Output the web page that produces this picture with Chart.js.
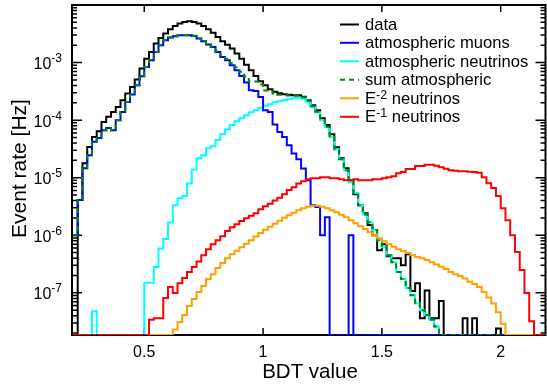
<!DOCTYPE html>
<html>
<head>
<meta charset="utf-8">
<script src="https://cdn.jsdelivr.net/npm/chart.js@4.4.1/dist/chart.umd.min.js"></script>
<style>
  html, body { margin: 0; padding: 0; background: #ffffff; }
  #c { display: block; }
</style>
</head>
<body>
<canvas id="c" width="547" height="385" style="width:547px;height:385px"></canvas>
<script>
// Binning of the BDT score histograms
const BIN_LOW = 0.2;
const BIN_WIDTH = 0.02;

// Axis ranges
const X_MIN = 0.196, X_MAX = 2.1885;
const Y_MIN = 1.85e-8, Y_MAX = 1e-2;

// Tick labels
const xTicks = [0.5, 1, 1.5, 2];
const xTickLabels = ['0.5', '1', '1.5', '2'];
const yTickDecades = [-7, -6, -5, -4, -3];
const yTickExponents = ['-7', '-6', '-5', '-4', '-3'];

// Event rates per bin [Hz], 100 bins from 0.20 to 2.20
const data = [
  0, 4.1e-6, 1.79e-5, 3.43e-5, 5.1e-5, 6.4e-5, 9.3e-5, 1.14e-4, 1.39e-4, 1.69e-4,
  2.22e-4, 2.9e-4, 3.77e-4, 5.1e-4, 7.9e-4, 1.17e-3, 1.53e-3, 2.14e-3, 2.67e-3, 3.19e-3,
  3.8e-3, 4.3e-3, 4.75e-3, 5.07e-3, 5.2e-3, 5.07e-3, 4.75e-3, 4.3e-3, 3.8e-3, 3.3e-3,
  2.78e-3, 2.34e-3, 2.04e-3, 1.75e-3, 1.43e-3, 1.17e-3, 9.2e-4, 7.35e-4, 5.85e-4, 4.73e-4,
  4.04e-4, 3.44e-4, 3.11e-4, 2.93e-4, 2.82e-4, 2.76e-4, 2.71e-4, 2.71e-4, 2.55e-4, 2.22e-4,
  1.82e-4, 1.49e-4, 1.08e-4, 8.2e-5, 5.7e-5, 3.39e-5, 2.18e-5, 1.46e-5, 9.05e-6, 5.17e-6,
  3.33e-6, 2.42e-6, 1.5e-6, 1.0e-6, 5.5e-7, 7.0e-7, 4.3e-7, 4.0e-7, 4.0e-7, 3.0e-7,
  4.7e-7, 1.07e-7, 1.47e-7, 3.6e-8, 1.1e-7, 3.6e-8, 3.6e-8, 7.2e-8, 0, 0,
  0, 0, 3.6e-8, 0, 3.6e-8, 0, 0, 0, 0, 2.4e-8,
  0, 0, 0, 0, 0, 0, 0, 0, 0, 0
];

const atmMuons = [
  1.0e-6, 4.1e-6, 1.46e-5, 2.46e-5, 4.2e-5, 4.9e-5, 6.7e-5, 7.3e-5, 6.7e-5, 1.0e-4,
  1.39e-4, 2.07e-4, 2.78e-4, 4.04e-4, 5.8e-4, 8.4e-4, 1.1e-3, 1.53e-3, 2.0e-3, 2.44e-3,
  2.72e-3, 2.86e-3, 2.98e-3, 2.98e-3, 2.98e-3, 2.9e-3, 2.61e-3, 2.34e-3, 2.05e-3, 1.87e-3,
  1.53e-3, 1.25e-3, 1.1e-3, 9.0e-4, 7.35e-4, 5.85e-4, 4.5e-4, 3.3e-4, 3.2e-4, 2.53e-4,
  1.49e-4, 1.39e-4, 8.4e-5, 6.2e-5, 5.1e-5, 3.67e-5, 2.63e-5, 2.1e-5, 1.45e-5, 9.05e-6,
  3.33e-6, 3.1e-6, 1.0e-6, 2.06e-6, 0, 0, 0, 0, 1.0e-6, 0,
  0, 0, 0, 0, 0, 0, 0, 0, 0, 0,
  0, 0, 0, 0, 0, 0, 0, 0, 0, 0,
  0, 0, 0, 0, 0, 0, 0, 0, 0, 0,
  0, 0, 0, 0, 0, 0, 0, 0, 0, 0
];

const atmNeutrinos = [
  0, 0, 0, 0, 4.8e-8, 0, 0, 0, 0, 0,
  0, 0, 0, 0, 0, 1.49e-7, 1.49e-7, 2.8e-7, 5.9e-7, 8.6e-7,
  1.67e-6, 3.33e-6, 4.4e-6, 4.8e-6, 7.9e-6, 1.39e-5, 2.18e-5, 2.46e-5, 3.25e-5, 3.5e-5,
  4.5e-5, 5.7e-5, 6.95e-5, 8.2e-5, 9.6e-5, 1.08e-4, 1.22e-4, 1.37e-4, 1.49e-4, 1.64e-4,
  1.78e-4, 1.89e-4, 2.05e-4, 2.13e-4, 2.22e-4, 2.31e-4, 2.4e-4, 2.45e-4, 2.35e-4, 2.09e-4,
  1.71e-4, 1.37e-4, 1.0e-4, 7.5e-5, 5.05e-5, 3.13e-5, 2.1e-5, 1.35e-5, 8.4e-6, 5.4e-6,
  3.33e-6, 2.3e-6, 1.69e-6, 1.23e-6, 8.2e-7, 6.2e-7, 4.5e-7, 3.4e-7, 2.3e-7, 1.73e-7,
  1.21e-7, 9.1e-8, 6.6e-8, 5.0e-8, 4.1e-8, 3.4e-8, 2.6e-8, 0, 0, 0,
  0, 0, 0, 0, 0, 0, 0, 0, 0, 0,
  0, 0, 0, 0, 0, 0, 0, 0, 0, 0
];

const sumAtmospheric = [
  1.0e-6, 4.1e-6, 1.46e-5, 2.46e-5, 4.2e-5, 4.9e-5, 6.7e-5, 7.3e-5, 6.7e-5, 1.0e-4,
  1.39e-4, 2.07e-4, 2.78e-4, 4.04e-4, 5.8e-4, 8.4e-4, 1.1e-3, 1.53e-3, 2.0e-3, 2.44e-3,
  2.72e-3, 2.86e-3, 2.98e-3, 2.98e-3, 2.99e-3, 2.91e-3, 2.63e-3, 2.36e-3, 2.08e-3, 1.9e-3,
  1.57e-3, 1.31e-3, 1.17e-3, 9.8e-4, 8.3e-4, 6.9e-4, 5.7e-4, 4.7e-4, 4.7e-4, 4.17e-4,
  3.27e-4, 3.28e-4, 2.89e-4, 2.75e-4, 2.73e-4, 2.68e-4, 2.66e-4, 2.66e-4, 2.5e-4, 2.18e-4,
  1.74e-4, 1.4e-4, 1.01e-4, 7.7e-5, 5.05e-5, 3.13e-5, 2.1e-5, 1.35e-5, 9.4e-6, 5.4e-6,
  3.33e-6, 2.3e-6, 1.69e-6, 1.23e-6, 8.2e-7, 6.2e-7, 4.5e-7, 3.4e-7, 2.3e-7, 1.73e-7,
  1.21e-7, 9.1e-8, 6.6e-8, 5.0e-8, 4.1e-8, 3.4e-8, 2.6e-8, 0, 0, 0,
  0, 0, 0, 0, 0, 0, 0, 0, 0, 0,
  0, 0, 0, 0, 0, 0, 0, 0, 0, 0
];

const e2Neutrinos = [
  0, 0, 0, 0, 0, 0, 0, 0, 0, 0,
  0, 0, 0, 0, 0, 0, 0, 0, 0, 0,
  0, 2.3e-8, 3.1e-8, 4.1e-8, 5.9e-8, 7.8e-8, 1.03e-7, 1.31e-7, 1.73e-7, 2.1e-7,
  2.7e-7, 3.3e-7, 4.0e-7, 4.7e-7, 5.4e-7, 6.2e-7, 7.1e-7, 8.2e-7, 9.5e-7, 1.09e-6,
  1.25e-6, 1.41e-6, 1.59e-6, 1.79e-6, 2.02e-6, 2.23e-6, 2.47e-6, 2.73e-6, 2.95e-6, 3.14e-6,
  3.27e-6, 3.27e-6, 3.14e-6, 2.95e-6, 2.73e-6, 2.52e-6, 2.28e-6, 2.06e-6, 1.83e-6, 1.62e-6,
  1.44e-6, 1.28e-6, 1.13e-6, 1.0e-6, 8.9e-7, 7.9e-7, 7.0e-7, 6.3e-7, 5.7e-7, 5.3e-7,
  4.9e-7, 4.5e-7, 4.2e-7, 4.0e-7, 3.7e-7, 3.4e-7, 3.1e-7, 2.85e-7, 2.6e-7, 2.3e-7,
  2.1e-7, 1.95e-7, 1.77e-7, 1.56e-7, 1.42e-7, 1.26e-7, 1.03e-7, 8.3e-8, 6.5e-8, 4.6e-8,
  2.9e-8, 0, 0, 0, 0, 0, 0, 0, 0, 0
];

const e1Neutrinos = [
  0, 0, 0, 0, 0, 0, 0, 0, 0, 0,
  0, 0, 0, 0, 0, 0, 3.4e-8, 3.6e-8, 3.6e-8, 8.1e-8,
  1.26e-7, 9.9e-8, 1.47e-7, 1.8e-7, 2.3e-7, 2.8e-7, 3.5e-7, 4.5e-7, 5.7e-7, 7.0e-7,
  8.2e-7, 9.6e-7, 1.18e-6, 1.38e-6, 1.56e-6, 1.76e-6, 1.98e-6, 2.19e-6, 2.42e-6, 2.84e-6,
  3.2e-6, 3.54e-6, 4.0e-6, 4.5e-6, 5.17e-6, 6.1e-6, 6.8e-6, 7.9e-6, 8.7e-6, 9.4e-6,
  9.8e-6, 9.8e-6, 1.02e-5, 1.02e-5, 9.8e-6, 9.8e-6, 9.4e-6, 9.05e-6, 9.05e-6, 9.4e-6,
  9.05e-6, 9.05e-6, 9.05e-6, 9.4e-6, 9.4e-6, 9.8e-6, 1.02e-5, 1.06e-5, 1.2e-5, 1.25e-5,
  1.41e-5, 1.41e-5, 1.59e-5, 1.59e-5, 1.68e-5, 1.68e-5, 1.62e-5, 1.52e-5, 1.43e-5, 1.35e-5,
  1.32e-5, 1.3e-5, 1.3e-5, 1.27e-5, 1.25e-5, 1.22e-5, 1.02e-5, 8.0e-6, 6.6e-6, 4.8e-6,
  2.95e-6, 1.83e-6, 1.0e-6, 5.1e-7, 2.5e-7, 9.9e-8, 3.2e-8, 0, 0, 0
];

const FONT = '"Liberation Sans", Arial, Helvetica, sans-serif';

// Series styling; "order" puts the signal curves on top of the background
const series = [
  { name: 'data',                  values: data,            color: '#000000', dash: [],     order: 6 },
  { name: 'atmospheric muons',     values: atmMuons,        color: '#0000ff', dash: [],     order: 4 },
  { name: 'atmospheric neutrinos', values: atmNeutrinos,    color: '#00ffff', dash: [],     order: 5 },
  { name: 'sum atmospheric',       values: sumAtmospheric,  color: '#008a00', dash: [5, 4], order: 3 },
  { name: 'E^{-2} neutrinos',      values: e2Neutrinos,     color: '#ffa000', dash: [],     order: 2 },
  { name: 'E^{-1} neutrinos',      values: e1Neutrinos,     color: '#ff0000', dash: [],     order: 1 }
];

// Turn bin contents into step points at the bin edges; empty bins sit on the axis floor
function histogramPoints(values) {
  const pts = values.map((v, i) => ({ x: BIN_LOW + i * BIN_WIDTH, y: v > 0 ? v : Y_MIN }));
  const last = pts[pts.length - 1].y;
  pts.push({ x: BIN_LOW + values.length * BIN_WIDTH, y: last });
  return pts;
}

const datasets = series.map(s => ({
  label: s.name,
  data: histogramPoints(s.values),
  borderColor: s.color,
  backgroundColor: s.color,
  borderWidth: 2,
  borderDash: s.dash,
  stepped: true,
  pointRadius: 0,
  fill: false,
  tension: 0,
  order: s.order,
  borderJoinStyle: 'miter',
  borderCapStyle: 'butt'
}));

// Draw text with ^{...} superscripts
function drawRich(ctx, text, x, y, size, supSize, supRaise) {
  const parts = [];
  const re = /\^\{([^}]*)\}/g;
  let idx = 0, m;
  while ((m = re.exec(text)) !== null) {
    if (m.index > idx) parts.push({ t: text.slice(idx, m.index), sup: false });
    parts.push({ t: m[1], sup: true });
    idx = m.index + m[0].length;
  }
  if (idx < text.length) parts.push({ t: text.slice(idx), sup: false });
  let cx = x;
  for (const p of parts) {
    ctx.font = (p.sup ? supSize : size) + 'px ' + FONT;
    ctx.fillText(p.t, cx, p.sup ? y - supRaise : y);
    cx += ctx.measureText(p.t).width;
  }
}

const framePlugin = {
  id: 'framePlugin',
  beforeDatasetsDraw(chart) {
    const { ctx, chartArea: a, scales: { x, y } } = chart;
    ctx.save();
    ctx.strokeStyle = '#000000';
    ctx.lineWidth = 1.5;
    ctx.beginPath();
    // logarithmic ticks on both vertical axes
    for (let d = -8; d <= -2; d++) {
      for (let k = 1; k <= 9; k++) {
        const v = k * Math.pow(10, d);
        if (v < Y_MIN * 0.999 || v > Y_MAX * 1.001) continue;
        const py = y.getPixelForValue(v);
        const len = k === 1 ? 10 : 5;
        ctx.moveTo(a.left, py); ctx.lineTo(a.left + len, py);
        ctx.moveTo(a.right, py); ctx.lineTo(a.right - len, py);
      }
    }
    // major ticks on both horizontal axes
    for (const t of xTicks) {
      const px = x.getPixelForValue(t);
      ctx.moveTo(px, a.bottom); ctx.lineTo(px, a.bottom - 7);
      ctx.moveTo(px, a.top); ctx.lineTo(px, a.top + 7);
    }
    ctx.stroke();
    ctx.lineWidth = 2;
    ctx.strokeRect(a.left, a.top, a.right - a.left, a.bottom - a.top);
    ctx.restore();
  },
  afterDraw(chart) {
    const { ctx, chartArea: a, scales: { x, y } } = chart;
    ctx.save();
    ctx.fillStyle = '#000000';
    ctx.textBaseline = 'alphabetic';

    // y tick labels: 10 with exponent
    for (let i = 0; i < yTickDecades.length; i++) {
      const py = y.getPixelForValue(Math.pow(10, yTickDecades[i]));
      ctx.font = '16px ' + FONT;
      const wBase = ctx.measureText('10').width;
      ctx.font = '12px ' + FONT;
      const wExp = ctx.measureText(yTickExponents[i]).width;
      const x0 = 62 - wBase - wExp;
      ctx.textAlign = 'left';
      ctx.font = '16px ' + FONT;
      ctx.fillText('10', x0, py + 6.5);
      ctx.font = '12px ' + FONT;
      ctx.fillText(yTickExponents[i], x0 + wBase, py - 0.5);
    }

    // x tick labels
    ctx.font = '16px ' + FONT;
    ctx.textAlign = 'center';
    for (let i = 0; i < xTicks.length; i++) {
      ctx.fillText(xTickLabels[i], x.getPixelForValue(xTicks[i]), 357);
    }

    // axis titles
    ctx.font = '20.5px ' + FONT;
    ctx.fillText('BDT value', 310, 378);
    ctx.save();
    ctx.translate(25.5, 168.5);
    ctx.rotate(-Math.PI / 2);
    ctx.font = '21px ' + FONT;
    ctx.textAlign = 'center';
    ctx.fillText('Event rate [Hz]', 0, 0);
    ctx.restore();

    // legend
    ctx.textAlign = 'left';
    const rowY = [24.5, 42.8, 61.3, 79.8, 98.3, 116.8];
    series.forEach((s, i) => {
      const ly = rowY[i];
      ctx.save();
      ctx.strokeStyle = s.color;
      ctx.lineWidth = 2;
      ctx.setLineDash(s.dash);
      ctx.beginPath();
      ctx.moveTo(340, ly);
      ctx.lineTo(359, ly);
      ctx.stroke();
      ctx.restore();
      ctx.fillStyle = '#000000';
      drawRich(ctx, s.name, 365, ly + 5.5, 16.6, 12.5, 5);
    });
    ctx.restore();
  }
};

new Chart(document.getElementById('c'), {
  type: 'line',
  data: { datasets },
  options: {
    responsive: false,
    animation: false,
    devicePixelRatio: 1,
    layout: { autoPadding: false, padding: { left: 0, right: 1.5, top: 5, bottom: 0 } },
    plugins: { legend: { display: false }, tooltip: { enabled: false } },
    scales: {
      x: {
        type: 'linear', min: X_MIN, max: X_MAX,
        grid: { display: false }, border: { display: false },
        ticks: { display: false },
        afterFit: s => { s.height = 50; }
      },
      y: {
        type: 'logarithmic', min: Y_MIN, max: Y_MAX,
        grid: { display: false }, border: { display: false },
        ticks: { display: false },
        afterFit: s => { s.width = 72; }
      }
    }
  },
  plugins: [framePlugin]
});
</script>
</body>
</html>
